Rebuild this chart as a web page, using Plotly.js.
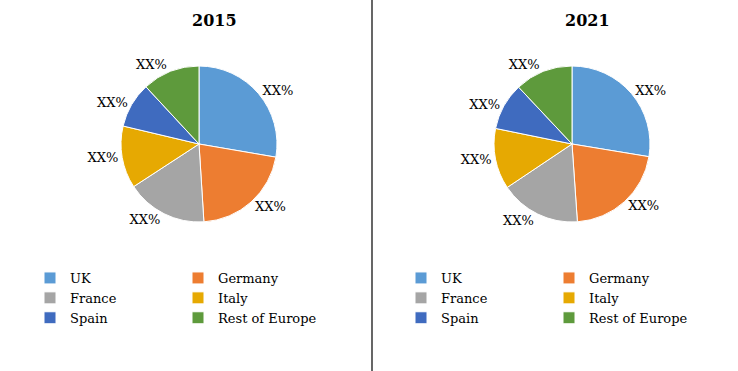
<!DOCTYPE html>
<html>
<head>
<meta charset="utf-8">
<script src="https://cdn.plot.ly/plotly-3.0.1.min.js"></script>
<style>html,body{margin:0;padding:0;background:#fff;}#chart{width:738px;height:371px;}</style>
</head>
<body>
<div id="chart"></div>
<script>
// ---- data ----
var regions = ["UK", "Germany", "France", "Italy", "Spain", "Rest of Europe"];
var share2015 = [27.7, 21.3, 16.8, 12.9, 9.4, 11.9];
var share2021 = [27.6, 21.3, 16.7, 12.6, 9.8, 12.0];
var sliceLabels = ["XX%", "XX%", "XX%", "XX%", "XX%", "XX%"];
var years = ["2015", "2021"];
var colors = ["#5B9BD5", "#ED7D31", "#A5A5A5", "#E6A902", "#3F6BBF", "#5E9A3C"];

// ---- layout helpers (pixel -> paper) ----
var W = 738, H = 371, ML = 60, MR = 78;
var PW = W - ML - MR;
function px(x) { return (x - ML) / PW; }
function py(y) { return (H - y) / H; }
var R = 78;
function dom(cx, cy) {
  return { x: [px(cx - R), px(cx + R)], y: [py(cy + R), py(cy - R)] };
}
var font = "DejaVu Serif, Liberation Serif, serif";

function pie(values, cx, legendId, group) {
  return {
    type: "pie", labels: regions, values: values, text: sliceLabels,
    textinfo: "text", textposition: "outside", sort: false,
    direction: "clockwise", rotation: 0,
    marker: { colors: colors, line: { color: "#ffffff", width: 1 } },
    outsidetextfont: { family: font, size: 13, color: "#000" },
    domain: dom(cx, 144), legend: legendId, legendgroup: group,
    hoverinfo: "label+percent"
  };
}
var data = [pie(share2015, 199, "legend", "y2015"), pie(share2021, 572, "legend2", "y2021")];

function leg(x, anchor) {
  return {
    orientation: "h", x: x, xanchor: anchor, y: py(263), yanchor: "top",
    entrywidth: 103, entrywidthmode: "pixels",
    font: { family: font, size: 13, color: "#000" },
    bgcolor: "rgba(0,0,0,0)", traceorder: "normal"
  };
}

var titleFont = { family: font, size: 16, color: "#000" };
var layout = {
  width: W, height: H,
  margin: { l: ML, r: MR, t: 0, b: 0, autoexpand: false },
  paper_bgcolor: "#fff",
  showlegend: true,
  legend: leg(px(30), "left"),
  legend2: leg(px(401 + 296), "right"),
  annotations: [
    { text: "<b>" + years[0] + "</b>", x: px(214), y: py(20), xref: "paper", yref: "paper", xanchor: "center", yanchor: "middle", showarrow: false, font: titleFont },
    { text: "<b>" + years[1] + "</b>", x: px(587), y: py(20), xref: "paper", yref: "paper", xanchor: "center", yanchor: "middle", showarrow: false, font: titleFont }
  ],
  shapes: [
    { type: "line", xref: "paper", yref: "paper", x0: px(372), x1: px(372), y0: 0, y1: 1, line: { color: "#000", width: 1.2 } }
  ]
};

Plotly.newPlot("chart", data, layout, { displayModeBar: false, staticPlot: true });
</script>
</body>
</html>
